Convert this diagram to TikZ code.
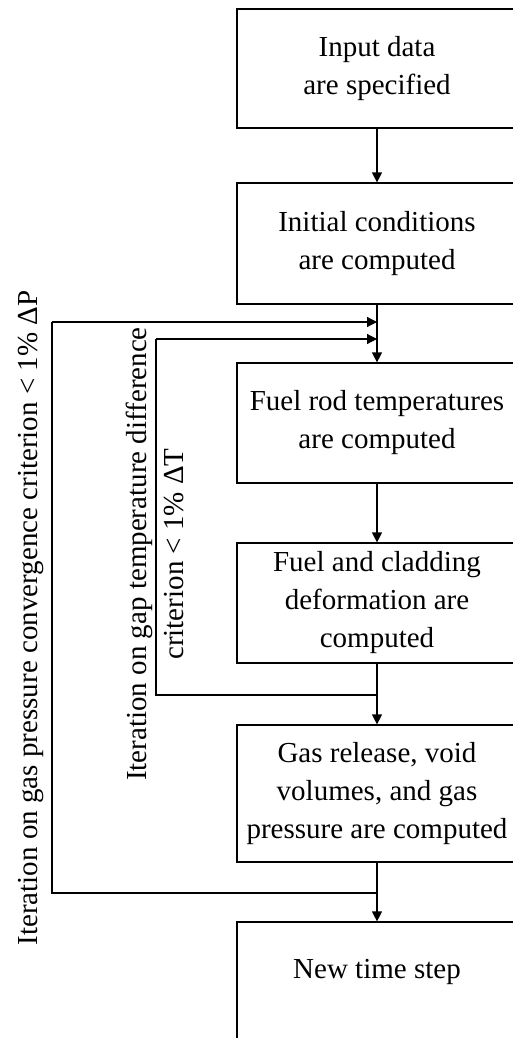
\documentclass[tikz,border=0pt]{standalone}
\usepackage{fontspec}
\setmainfont{Liberation Serif}
\usetikzlibrary{arrows.meta}
\tikzset{
  stepbox/.style={draw, line width=1.2pt, minimum width=280pt, inner sep=0pt,
    align=center, font=\fontsize{29}{38}\selectfont},
  flow/.style={line width=1.2pt, -{Triangle[length=10pt,width=10pt]}},
  loopline/.style={line width=1.2pt},
  looplabel/.style={rotate=90, inner sep=0pt, align=center,
    font=\fontsize{29}{37}\selectfont}
}
\begin{document}
\begin{tikzpicture}[x=1pt, y=-1pt]
  \useasboundingbox (0,0) rectangle (513,1038);
  \clip (0,0) rectangle (513,1038);

  % process boxes
  \node[stepbox, minimum height=119pt] (b1) at (377,68.5) {Input data\\are specified};
  \node[stepbox, minimum height=121pt] (b2) at (377,243.5) {Initial conditions\\are computed};
  \node[stepbox, minimum height=120pt] (b3) at (377,423) {Fuel rod temperatures\\are computed};
  \node[stepbox, minimum height=120pt] (b4) at (377,603) {Fuel and cladding\\deformation are\\computed};
  \node[stepbox, minimum height=137pt] (b5) at (377,793.5) {Gas release, void\\volumes, and gas\\pressure are computed};
  \node[stepbox, minimum height=130pt] (b6) at (377,987) {};
  \node[font=\fontsize{29}{38}\selectfont, inner sep=0pt] (b6t) at (377,972) {New time step};

  % main flow
  \draw[flow] (b1.south) -- (b2.north);
  \draw[flow] (b2.south) -- (b3.north);
  \draw[flow] (b3.south) -- (b4.north);
  \draw[flow] (b4.south) -- (b5.north);
  \draw[flow] (b5.south) -- (b6.north);

  % loop junctions
  \coordinate (gapOut) at (377,695);
  \coordinate (gapIn) at (377,339);
  \coordinate (gasOut) at (377,893);
  \coordinate (gasIn) at (377,322);

  % inner iteration loop (gap temperature)
  \draw[loopline] (gapOut) -| (156,339);
  \draw[flow] (156,339) -- (gapIn);
  % outer iteration loop (gas pressure)
  \draw[loopline] (gasOut) -| (52,322);
  \draw[flow] (52,322) -- (gasIn);

  % loop labels
  \node[looplabel, anchor=base] (lblP) at (37,618)
    {Iteration on gas pressure convergence criterion < 1\% ΔP};
  \node[looplabel] (lblT) at (155,554)
    {Iteration on gap temperature difference\\criterion < 1\% ΔT};
\end{tikzpicture}
\end{document}
